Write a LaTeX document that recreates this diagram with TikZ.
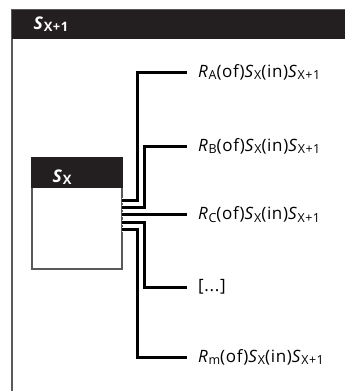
\documentclass[tikz,border=0pt]{standalone}
\usepackage{fontspec}
\setmainfont{Open Sans}
\usetikzlibrary{positioning}
\definecolor{headblack}{HTML}{231F20}
\definecolor{framegray}{HTML}{595959}
\newcommand{\Sub}[1]{\raisebox{-0.28ex}{\fontsize{12.5}{12.5}\selectfont #1}}
\newcommand{\HSub}[1]{\raisebox{-0.28ex}{\fontsize{13}{13}\selectfont\bfseries #1}}
\newcommand{\Sx}{\textit{S}\Sub{X}}
\newcommand{\Sxx}{\textit{S}\Sub{X+1}}
\newcommand{\Rel}[1]{\textit{R}\Sub{#1}(of)\Sx(in)\Sxx}
\tikzset{%
frame/.style={draw=framegray,line width=1.3pt},
headbar/.style={fill=headblack},
headtext/.style={font=\fontsize{17.5}{17.5}\selectfont\bfseries\addfontfeatures{LetterSpace=4},text=white,inner sep=0},
setbox/.style={draw=framegray,line width=1.3pt,fill=white,minimum width=90pt,minimum height=111pt,inner sep=0},
rel/.style={font=\fontsize{17}{17}\selectfont\addfontfeatures{LetterSpace=4},anchor=west,inner xsep=11pt,inner ysep=0},
link/.style={line width=3pt,preaction={draw=white,line width=5pt}}
}

\begin{document}
\begin{tikzpicture}[x=1pt,y=-1pt]
  \useasboundingbox (0,0) rectangle (345,391);
  \clip (0,0) rectangle (345,391);

  % outer set
  \draw[frame] (12,395) -- (12,10) -- (350,10);
  \fill[headbar] (12,10) rectangle (350,39);
  \node[headtext] (outerhead) at (51,24) {\textit{S}\HSub{X+1}};

  % inner set
  \node[setbox] (sx) at (77,213.5) {};
  \fill[headbar] (sx.north west) rectangle ([yshift=-31pt]sx.north east);
  \node[headtext] (innerhead) at (62,177) {\textit{S}\HSub{X}};

  % stubs on the right side of the inner set
  \coordinate (pa) at (122,200);
  \coordinate (pb) at (122,207);
  \coordinate (pc) at (122,214.5);
  \coordinate (pd) at (122,222);
  \coordinate (pm) at (122,229);

  % relations
  \node[rel] (ra) at (187,72) {\Rel{A}};
  \node[rel] (rb) at (187,146) {\Rel{B}};
  \node[rel] (rc) at (187,214.5) {\Rel{C}};
  \node[rel] (rd) at (187,287) {[...]};
  \node[rel] (rm) at (187,357) {\Rel{m}};

  \draw[link] (pa) -- ++(15,0) |- (ra.west);
  \draw[link] (pb) -- ++(22,0) |- (rb.west);
  \draw[link] (pc) -- (rc.west);
  \draw[link] (pd) -- ++(22,0) |- (rd.west);
  \draw[link] (pm) -- ++(15,0) |- (rm.west);

\end{tikzpicture}
\end{document}
